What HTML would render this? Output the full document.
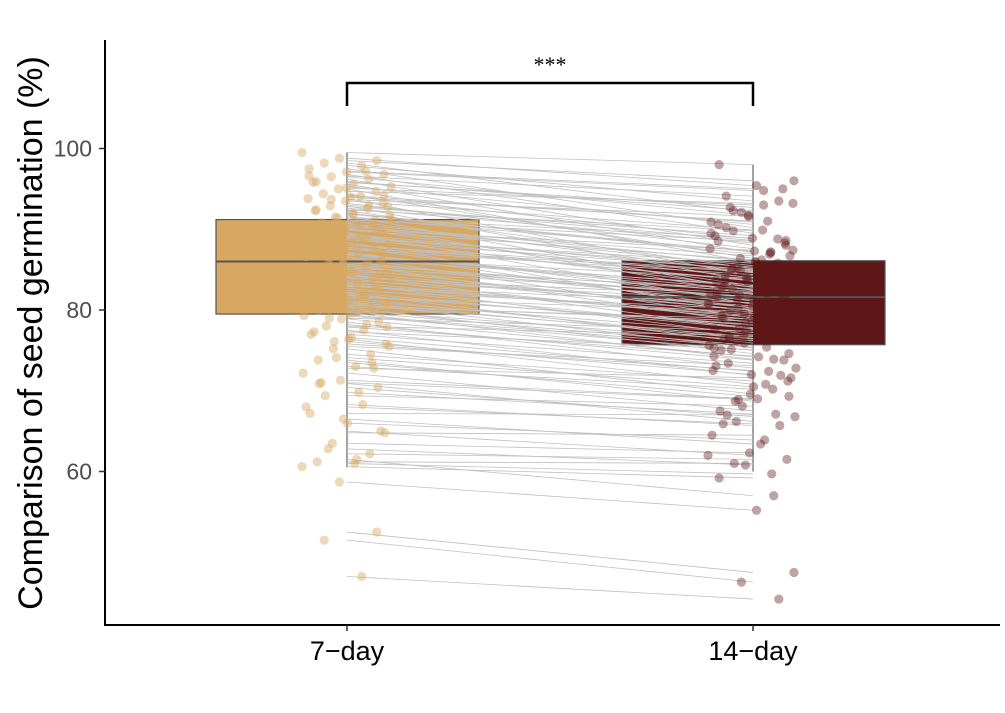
<!DOCTYPE html>
<html><head><meta charset="utf-8"><style>
body{margin:0;background:#fff;}
svg{display:block;font-family:"Liberation Sans",sans-serif;}
</style></head><body>
<svg id="chart" width="1005" height="713"></svg>
<script>
const groups = ["7-day", "14-day"];
const yTicks = [60, 80, 100];
const day7 = [99.5,98.8,98.5,98.2,97.9,97.5,97.1,96.8,96.5,96.2,95.9,95.6,95.3,95.0,94.7,94.4,94.1,93.8,93.5,93.2,92.9,92.6,92.3,92.0,91.7,91.4,91.1,90.8,90.5,90.2,89.9,89.6,89.3,89.0,88.7,88.4,88.1,87.8,87.5,87.2,86.9,86.6,86.3,86.0,85.7,85.4,85.1,84.8,84.5,84.2,83.9,83.6,83.3,83.0,82.7,82.4,82.1,81.8,81.5,81.2,80.9,80.6,80.3,80.0,79.7,79.3,78.9,78.5,78.0,77.5,77.0,76.4,75.8,75.2,74.5,73.8,73.0,72.2,71.3,70.4,69.4,68.3,67.2,66.0,64.8,63.5,62.2,61.2,61.0,60.6,58.7,52.5,51.5,47.0,
96.6,95.1,94.2,93.7,93.0,92.4,91.9,91.2,90.7,90.0,89.4,88.9,88.2,87.7,87.0,86.5,85.9,85.2,84.6,84.0,83.4,82.9,82.2,81.6,81.0,80.4,79.8,79.0,78.2,77.3,76.6,75.5,74.1,72.8,71.0,69.8,68.0,66.5,65.0,62.8,97.2,95.8,94.0,92.8,91.5,90.3,89.1,88.0,86.8,85.6,84.3,83.1,81.9,80.7,79.4,77.9,76.1,73.5,70.9,61.5];
const day14 = [98.0,95.4,96.0,92.1,93.5,90.2,94.8,89.5,91.7,88.0,92.3,87.1,90.6,85.9,93.2,86.4,88.8,84.2,89.9,87.6,83.5,88.3,85.1,86.9,82.4,87.3,84.6,81.9,85.5,83.0,86.2,80.7,84.0,82.8,85.0,79.6,83.7,81.1,84.4,80.2,82.5,79.0,83.1,80.8,78.4,81.6,79.9,82.0,77.6,80.5,78.8,81.3,76.9,79.3,77.8,80.1,75.9,78.2,76.5,77.2,75.3,78.6,74.6,76.2,73.9,75.0,74.2,72.8,76.8,71.9,73.4,70.8,72.5,69.6,71.2,68.7,70.2,67.5,69.0,66.8,68.1,65.7,67.0,63.9,64.5,62.3,61.5,61.0,59.7,59.2,55.2,47.5,46.3,44.2,
94.1,93.0,90.9,91.6,88.6,89.8,87.2,88.5,86.0,87.4,84.9,85.8,83.6,84.7,82.1,83.9,81.5,82.6,80.3,81.7,79.1,80.9,77.7,79.8,76.4,78.9,75.6,77.4,73.8,75.1,72.4,73.1,70.5,71.6,68.9,67.1,65.9,63.4,62.0,60.8,95.0,92.7,91.0,89.2,88.9,86.7,85.3,84.8,82.9,82.3,80.0,79.5,78.1,76.7,75.4,74.3,72.0,69.3,66.2,57.0];
// box stats: [lowWhisker, q1, median, q3, highWhisker]
const box7 = [60.5, 79.5, 86.0, 91.2, 99.5];
const box14 = [60.0, 75.7, 81.6, 86.1, 98.0];

const NS = "http://www.w3.org/2000/svg";
const svg = document.getElementById("chart");
function y(v){ return 310 - (v - 80) * 8.075; }
const xc = [347, 753];
function mk(tag, attrs, parent){ const e = document.createElementNS(NS, tag); for (const k in attrs) e.setAttribute(k, attrs[k]); (parent||svg).appendChild(e); return e; }

const colors = ["#d8a863", "#5e1616"];
[box7, box14].forEach((b, g) => {
  const w = mk("line", {x1: xc[g], x2: xc[g], y1: y(b[0]), y2: y(b[4]), stroke: "#666", "stroke-width": 1.2});
  
  
  const r = mk("rect", {x: xc[g] - 131, y: y(b[3]), width: 263, height: y(b[1]) - y(b[3]), fill: colors[g], stroke: "#555", "stroke-width": 1.2});
  
  
});
day7.forEach((a, i) => {
  const l = mk("line", {x1: xc[0], y1: y(a), x2: xc[1], y2: y(day14[i]), stroke: "#c0c0c0", "stroke-width": 0.8});
  
  
});
[box7, box14].forEach((b, g) => {
  const m = mk("line", {x1: xc[g] - 131, x2: xc[g] + 132, y1: y(b[2]), y2: y(b[2]), stroke: "#555", "stroke-width": 2});
  
  
});
[day7, day14].forEach((arr, g) => {
  arr.forEach((v, i) => {
    const jit = (((i * 37 + g * 11) % 89) / 89 - 0.5) * 90;
    const c = mk("circle", {cx: xc[g] + jit, cy: y(v), r: 4.6, fill: colors[g], "fill-opacity": g ? 0.4 : 0.45});
    
    
  });
});
// axes
const ax = mk("path", {d: "M105 40 V625 H1000", stroke: "#000", "stroke-width": 2, fill: "none"});


yTicks.forEach(t => {
  const tk = mk("line", {x1: 99, x2: 105, y1: y(t), y2: y(t), stroke: "#333", "stroke-width": 1.5});
  
  
  const tx = mk("text", {x: 92, y: y(t) + 8, "text-anchor": "end", "font-size": 23, fill: "#4d4d4d"});
  tx.textContent = t;
  
  
});
groups.forEach((gname, g) => {
  const tk = mk("line", {x1: xc[g], x2: xc[g], y1: 625, y2: 631, stroke: "#333", "stroke-width": 1.5});
  
  
  const tx = mk("text", {x: xc[g], y: 660, "text-anchor": "middle", "font-size": 27, fill: "#000"});
  tx.textContent = gname.replace("-", "\u2212");
  
  
});
const yt = mk("text", {x: 0, y: 0, transform: "translate(42,333) rotate(-90)", "text-anchor": "middle", "font-size": 34, fill: "#000"});
yt.textContent = "Comparison of seed germination (%)";


const br = mk("path", {d: "M347 106 V83 H753 V106", stroke: "#000", "stroke-width": 2.5, fill: "none"});


const st = mk("text", {x: 550, y: 72, "text-anchor": "middle", "font-size": 22, fill: "#000", "font-family": "Liberation Serif, serif"});
st.textContent = "***";


</script>
</body></html>
